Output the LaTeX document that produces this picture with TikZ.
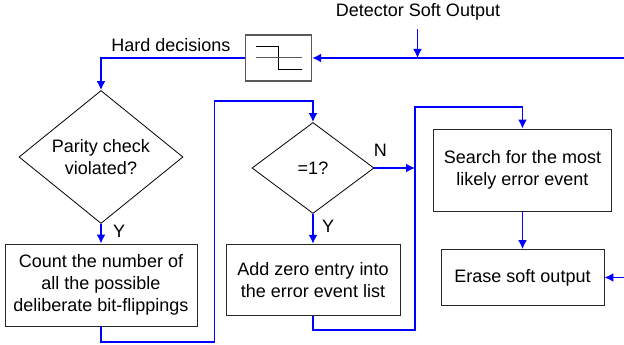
\documentclass[tikz,border=0pt]{standalone}
\usepackage{fontspec}
\setmainfont{Liberation Sans}
\usetikzlibrary{positioning}
\usetikzlibrary{shapes.geometric}
\usetikzlibrary{arrows.meta}

\begin{document}
\begin{tikzpicture}[x=1pt, y=-1pt,
		every node/.style={font=\fontsize{18}{21.7}\selectfont},
		block/.style={
			draw=black!85,
			line width=0.9pt,
			rectangle,
			align=center,
			inner sep=0pt,
		},
		decision/.style={
			draw=black,
			line width=0.8pt,
			diamond,
			align=center,
			inner sep=0pt,
		},
		flow/.style={draw=blue, line width=1.6pt},
		flowarrow/.style={flow, -{Latex[length=9pt,width=9pt]}},
	]
		\useasboundingbox (0,0) rectangle (624,345);
		
		% slicer (hard decision device)
		\node[block, draw=black!65, line width=1.4pt, minimum width=66pt, minimum height=46pt] (slicer) at (278.5,58) {};
		\begin{scope}[shift={(slicer.center)}]
			\draw[black, line width=1pt] (-23,-11.3) -- (0,-11.3) -- (0,11.3) -- (23.5,11.3);
			\draw[black!65, line width=1pt] (-23,0) -- (23.5,0);
		\end{scope}
		
		\node[decision, minimum width=164pt, minimum height=121pt] (parity) at (101,157) {Parity check\\violated?};
		\node[block, minimum width=192pt, minimum height=82pt] (count) at (101,285) {Count the number of\\all the possible\\deliberate bit-flippings};
		
		\node[decision, minimum width=122pt, minimum height=91pt] (onecheck) at (313,168) {=1?};
		\node[block, minimum width=174pt, minimum height=71.5pt] (addzero) at (313,280) {Add zero entry into\\the error event list};
		
		\node[block, minimum width=178pt, minimum height=82pt] (search) at (522.5,170) {Search for the most\\likely error event};
		\node[block, minimum width=163pt, minimum height=56pt] (erase) at (522.5,277.5) {Erase soft output};
		
		% free ends and corners
		\coordinate (intop) at (624,58);
		\coordinate (dso) at (417.5,29);
		\coordinate (dsojoin) at (417.5,58);
		\coordinate (inerase) at (624,277.5);
		\coordinate (loopA) at (214.5,342);
		\coordinate (loopB) at (214.5,101);
		\coordinate (joinN) at (415,168);
		\coordinate (loopC) at (415,330);
		\coordinate (loopD) at (415,107);
		
		\node (dsolabel) at (418,12) {Detector Soft Output};
		\node (hdlabel) at (171,45) {Hard decisions};
		
		\draw[flowarrow] (intop) -- (slicer.east);
		\draw[flowarrow] (dso) -- (dsojoin);
		\draw[flowarrow] (slicer.west) -| (parity.north);
		
		\draw[flowarrow] (parity.south) -- (count.north) node[pos=0.4, right=8pt]{Y};
		\draw[flowarrow] (count.south) |- (loopA) -- (loopB) -| (onecheck.north);
		
		\draw[flowarrow] (onecheck.south) -- (addzero.north) node[pos=0.4, right=5pt]{Y};
		\draw[flowarrow] (onecheck.east) -- (joinN) node[pos=0.15, above=7pt]{N};
		\draw[flowarrow] (addzero.south) |- (loopC) -- (loopD) -| (search.north);
		
		\draw[flowarrow] (search.south) -- (erase.north);
		\draw[flowarrow] (inerase) -- (erase.east);
	\end{tikzpicture}
\end{document}
